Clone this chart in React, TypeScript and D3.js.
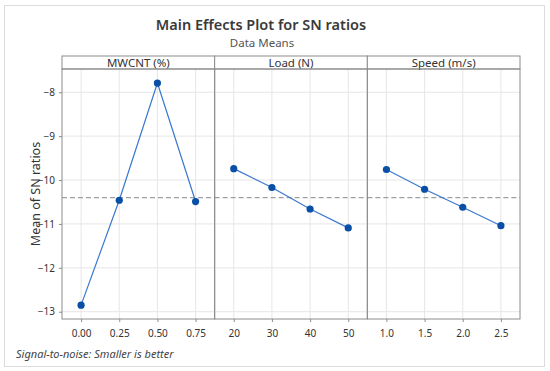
import React, { useEffect, useRef } from 'react';
import * as d3 from 'd3';

const factorNames = ['MWCNT (%)', 'Load (N)', 'Speed (m/s)'];
const mwcntLevels = ['0.00', '0.25', '0.50', '0.75'];
const mwcntValues = [-12.85, -10.46, -7.79, -10.49];
const loadLevels = ['20', '30', '40', '50'];
const loadValues = [-9.74, -10.17, -10.66, -11.09];
const speedLevels = ['1.0', '1.5', '2.0', '2.5'];
const speedValues = [-9.76, -10.21, -10.62, -11.04];
const yTicks = [-8, -9, -10, -11, -12, -13];
const grandMean = -10.40;

const W = 550;
const H = 371;
const FONT = '"Noto Sans", "Open Sans", sans-serif';

const App = () => {
    const svgRef = useRef<SVGSVGElement>(null);

    useEffect(() => {
        if (!svgRef.current) return;
        const svg = d3.select(svgRef.current);
        svg.selectAll('*').remove();

        const left = 62, right = 520, top = 69, bottom = 319, headerTop = 56;
        const panelW = (right - left) / 3;

        const factors = [
            { name: factorNames[0], levels: mwcntLevels, values: mwcntValues },
            { name: factorNames[1], levels: loadLevels, values: loadValues },
            { name: factorNames[2], levels: speedLevels, values: speedValues },
        ];

        // frame
        svg.append('rect')
            .attr('x', 4.5).attr('y', 5.5).attr('width', 540).attr('height', 361)
            .attr('fill', '#fff').attr('stroke', '#dcdcdc');

        svg.append('text')
            .attr('x', 261).attr('y', 30)
            .attr('text-anchor', 'middle')
            .style('font-family', FONT).style('font-size', '14.5px').style('font-weight', 600)
            .style('fill', '#3a3a3a')
            .text('Main Effects Plot for SN ratios');

        svg.append('text')
            .attr('x', 262).attr('y', 46.5)
            .attr('text-anchor', 'middle')
            .style('font-family', FONT).style('font-size', '11.5px')
            .style('fill', '#555')
            .text('Data Means');

        const y = d3.scaleLinear().domain([-13.166, -7.47]).range([bottom, top]);

        factors.forEach((f, i) => {
            const x0 = left + i * panelW;
            const x = d3.scalePoint<string>().domain(f.levels).range([x0, x0 + panelW]).padding(0.5);
            const g = svg.append('g');

            // grid
            g.selectAll('line.gy').data(yTicks).join('line')
                .attr('x1', x0).attr('x2', x0 + panelW)
                .attr('y1', d => y(d)).attr('y2', d => y(d))
                .attr('stroke', '#e6e6e6').attr('stroke-width', 1);
            g.selectAll('line.gx').data(f.levels).join('line')
                .attr('x1', d => x(d)!).attr('x2', d => x(d)!)
                .attr('y1', top).attr('y2', bottom)
                .attr('stroke', '#e6e6e6').attr('stroke-width', 1);

            // mean reference
            g.append('line')
                .attr('x1', x0).attr('x2', x0 + panelW)
                .attr('y1', y(grandMean)).attr('y2', y(grandMean))
                .attr('stroke', '#a0a0a0').attr('stroke-width', 1.2)
                .attr('stroke-dasharray', '5,3');

            // header
            g.append('rect')
                .attr('x', x0).attr('y', headerTop).attr('width', panelW).attr('height', top - headerTop)
                .attr('fill', '#fff').attr('stroke', '#8c8c8c');
            g.append('text')
                .attr('x', x0 + panelW / 2).attr('y', headerTop + 10.5)
                .attr('text-anchor', 'middle')
                .style('font-family', FONT).style('font-size', '11.5px').style('fill', '#333')
                .text(f.name);

            // panel border
            g.append('rect')
                .attr('x', x0).attr('y', top).attr('width', panelW).attr('height', bottom - top)
                .attr('fill', 'none').attr('stroke', '#8c8c8c');

            // x axis labels
            const xa = g.append('g').attr('transform', `translate(0,${bottom})`)
                .call(d3.axisBottom(x).tickSize(3).tickPadding(8));
            xa.select('.domain').remove();
            xa.selectAll('line').attr('stroke', '#8c8c8c');
            xa.selectAll('text').style('font-family', FONT).style('font-size', '10px').style('fill', '#333');

            const line = d3.line<number>()
                .x((_, j) => x(f.levels[j])!)
                .y(d => y(d));
            g.append('path')
                .datum(f.values)
                .attr('d', line)
                .attr('fill', 'none').attr('stroke', '#3a78cf').attr('stroke-width', 1.2);
            g.selectAll('circle').data(f.values).join('circle')
                .attr('cx', (_, j) => x(f.levels[j])!)
                .attr('cy', d => y(d))
                .attr('r', 3.6)
                .attr('fill', '#0a4fa6');
        });

        const ya = svg.append('g').attr('transform', `translate(${left},0)`)
            .call(d3.axisLeft(y).tickValues(yTicks).tickSize(3).tickPadding(4)
                .tickFormat(d => d3.format('d')(d as number).replace('-', '\u2212')));
        ya.select('.domain').remove();
        ya.selectAll('line').attr('stroke', '#8c8c8c');
        ya.selectAll('text').style('font-family', FONT).style('font-size', '10px').style('fill', '#333');

        svg.append('text')
            .attr('transform', `translate(40,${(top + bottom) / 2}) rotate(-90)`)
            .attr('text-anchor', 'middle')
            .style('font-family', FONT).style('font-size', '12.5px').style('fill', '#333')
            .text('Mean of SN ratios');

        svg.append('text')
            .attr('x', 16).attr('y', 358)
            .style('font-family', FONT).style('font-size', '11px').style('font-style', 'italic')
            .style('fill', '#444')
            .text('Signal-to-noise: Smaller is better');
    }, []);

    return (
        <svg ref={svgRef} width={W} height={H}
            style={{ position: 'absolute', left: 0, top: 0, background: '#fff' }} />
    );
};

export default App;
